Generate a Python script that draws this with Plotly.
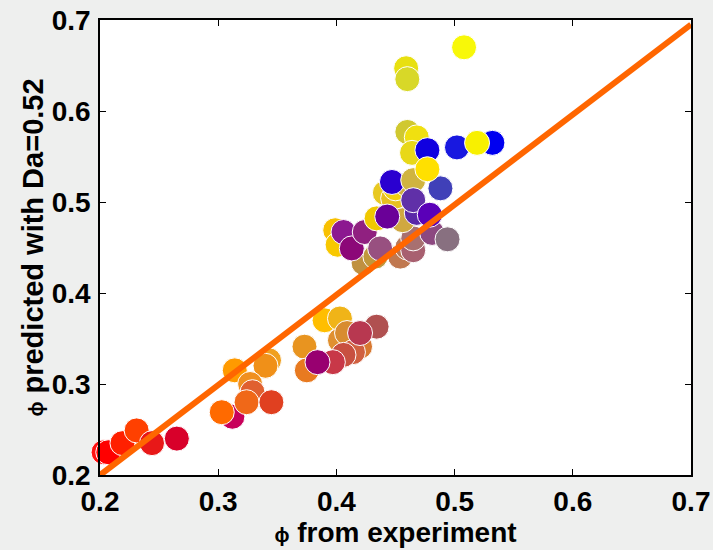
import plotly.graph_objects as go

# phi from experiment (x), phi predicted (y), point colours
x_exp = [0.203, 0.207, 0.219, 0.231, 0.244, 0.265,
         0.312, 0.303, 0.314, 0.343, 0.340, 0.327, 0.329, 0.324, 0.345,
         0.390, 0.403, 0.434, 0.373, 0.375, 0.403, 0.409, 0.420, 0.414, 0.406, 0.397, 0.420, 0.384,
         0.423, 0.433, 0.454, 0.460, 0.399, 0.401, 0.406, 0.413, 0.424, 0.437, 0.465, 0.465, 0.481, 0.494,
         0.434, 0.441, 0.448, 0.450, 0.460, 0.456, 0.443, 0.447, 0.465, 0.468, 0.465, 0.479, 0.488,
         0.460, 0.468, 0.464, 0.477, 0.502, 0.532, 0.519, 0.477, 0.459, 0.460, 0.508]
y_pred = [0.225, 0.225, 0.235, 0.249, 0.235, 0.240,
          0.264, 0.269, 0.315, 0.326, 0.320, 0.300, 0.291, 0.280, 0.280,
          0.370, 0.372, 0.363, 0.341, 0.315, 0.348, 0.356, 0.341, 0.335, 0.332, 0.324, 0.356, 0.324,
          0.433, 0.440, 0.440, 0.450, 0.469, 0.453, 0.467, 0.449, 0.467, 0.449, 0.447, 0.460, 0.466, 0.459,
          0.482, 0.510, 0.504, 0.515, 0.519, 0.480, 0.484, 0.522, 0.524, 0.488, 0.502, 0.486, 0.515,
          0.577, 0.571, 0.554, 0.557, 0.560, 0.565, 0.565, 0.536, 0.647, 0.635, 0.670]
colors = ['#ff1010', '#ff0000', '#ff2000', '#ff4000', '#e81818', '#d8002a',
          '#c8005a', '#ff6a00', '#ff9a00', '#f0a020', '#f09018', '#f09020', '#e06030', '#f06818', '#e04020',
          '#ffbe00', '#f0b418', '#b05050', '#e89420', '#e87a20', '#e09030', '#d88c30', '#d87830', '#d06040',
          '#c85040', '#c83848', '#b83850', '#980070',
          '#c09040', '#c0983c', '#c07850', '#b87858', '#f8c000', '#f8c800', '#8c1890', '#8c0878', '#902080',
          '#985080', '#a86070', '#a87070', '#8c4880', '#887080',
          '#f0c800', '#e8c820', '#e8c020', '#f0d010', '#d0b040', '#d0a840', '#6a0098', '#2a00d0', '#d0b440',
          '#5a28a8', '#6030a8', '#5a00b8', '#4040b8',
          '#d0c830', '#f0e010', '#e8d818', '#1000e0', '#1818e0', '#0000f0', '#f8f000', '#ffe000', '#e8e010',
          '#d8d828', '#f8f808']

# fit line end points
line_x = [0.185, 0.70]
line_y = [0.185, 0.695]

fig = go.Figure()
fig.add_trace(go.Scatter(
    x=x_exp, y=y_pred, mode='markers',
    marker=dict(size=25, color=colors, line=dict(color='white', width=1), opacity=1),
    showlegend=False, cliponaxis=False))
fig.add_trace(go.Scatter(
    x=line_x, y=line_y, mode='lines',
    line=dict(color='#ff6600', width=6), showlegend=False))

FAM = 'Liberation Sans, Arial, sans-serif'
axis_common = dict(showline=True, linecolor='black', linewidth=1.5, mirror='ticks',
                   ticks='inside', ticklen=6, tickcolor='black', showgrid=False,
                   zeroline=False, automargin=False,
                   tickfont=dict(family=FAM, size=28, color='black', weight='bold'),
                   dtick=0.1, tickformat='.1f')
fig.update_layout(
    width=713, height=550,
    margin=dict(l=100, r=22, t=20, b=75, autoexpand=False),
    paper_bgcolor='#eeefee', plot_bgcolor='white',
    font=dict(family=FAM, size=28, color='black'),
    xaxis=dict(range=[0.2, 0.7], tick0=0.2, ticklabelstandoff=1,
               title=dict(text='<b><span style="font-size:20px">ϕ</span> from experiment</b>',
                          font=dict(family=FAM, size=28, weight='bold'), standoff=0), **axis_common),
    yaxis=dict(range=[0.2, 0.7], tick0=0.2, ticklabelstandoff=2,
               title=dict(text='<b><span style="font-size:20px">ϕ</span> predicted with Da=0.52</b>',
                          font=dict(family=FAM, size=29, weight='bold'), standoff=0), **axis_common),
)
fig.write_html('out.html', config={'displayModeBar': False},
               post_script="document.body.style.margin='0';document.body.style.background='#eeefee';")
